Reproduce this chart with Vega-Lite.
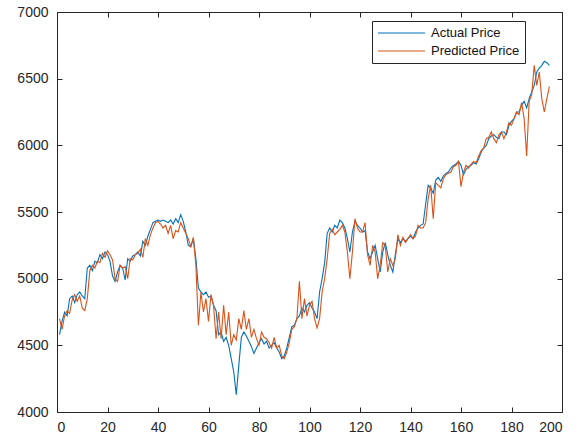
{
  "$schema": "https://vega.github.io/schema/vega-lite/v6.json",
  "width": 505,
  "height": 400,
  "autosize": {"type": "none"},
  "padding": {"left": 57, "top": 12, "right": 20, "bottom": 29},
  "background": "white",
  "config": {
    "view": {"stroke": "#262626", "strokeWidth": 1},
    "font": "Liberation Sans",
    "axis": {"domainColor": "#262626", "ticks": false, "grid": true, "gridColor": "#262626", "gridWidth": 1, "gridOpacity": 1, "labelColor": "#262626", "labelFontSize": 14, "labelFont": "Liberation Sans", "title": null, "format": "d"}
  },
  "data": {"values": [
    {"t":1,"Actual Price":4580,"Predicted Price":4700},
    {"t":2,"Actual Price":4680,"Predicted Price":4620},
    {"t":3,"Actual Price":4750,"Predicted Price":4720},
    {"t":4,"Actual Price":4720,"Predicted Price":4760},
    {"t":5,"Actual Price":4850,"Predicted Price":4740},
    {"t":6,"Actual Price":4870,"Predicted Price":4840},
    {"t":7,"Actual Price":4820,"Predicted Price":4880},
    {"t":8,"Actual Price":4880,"Predicted Price":4830},
    {"t":9,"Actual Price":4900,"Predicted Price":4870},
    {"t":10,"Actual Price":4870,"Predicted Price":4780},
    {"t":11,"Actual Price":4850,"Predicted Price":4760},
    {"t":12,"Actual Price":5080,"Predicted Price":4850},
    {"t":13,"Actual Price":5100,"Predicted Price":5060},
    {"t":14,"Actual Price":5060,"Predicted Price":5100},
    {"t":15,"Actual Price":5130,"Predicted Price":5080},
    {"t":16,"Actual Price":5120,"Predicted Price":5130},
    {"t":17,"Actual Price":5180,"Predicted Price":5120},
    {"t":18,"Actual Price":5150,"Predicted Price":5190},
    {"t":19,"Actual Price":5200,"Predicted Price":5160},
    {"t":20,"Actual Price":5180,"Predicted Price":5210},
    {"t":21,"Actual Price":5130,"Predicted Price":5180},
    {"t":22,"Actual Price":5020,"Predicted Price":5140},
    {"t":23,"Actual Price":4980,"Predicted Price":5000},
    {"t":24,"Actual Price":5050,"Predicted Price":4980},
    {"t":25,"Actual Price":5100,"Predicted Price":5100},
    {"t":26,"Actual Price":5080,"Predicted Price":5080},
    {"t":27,"Actual Price":4990,"Predicted Price":5090},
    {"t":28,"Actual Price":5150,"Predicted Price":5000},
    {"t":29,"Actual Price":5130,"Predicted Price":5150},
    {"t":30,"Actual Price":5170,"Predicted Price":5140},
    {"t":31,"Actual Price":5180,"Predicted Price":5180},
    {"t":32,"Actual Price":5200,"Predicted Price":5190},
    {"t":33,"Actual Price":5170,"Predicted Price":5220},
    {"t":34,"Actual Price":5280,"Predicted Price":5160},
    {"t":35,"Actual Price":5250,"Predicted Price":5300},
    {"t":36,"Actual Price":5320,"Predicted Price":5250},
    {"t":37,"Actual Price":5370,"Predicted Price":5330},
    {"t":38,"Actual Price":5420,"Predicted Price":5380},
    {"t":39,"Actual Price":5430,"Predicted Price":5420},
    {"t":40,"Actual Price":5440,"Predicted Price":5430},
    {"t":41,"Actual Price":5430,"Predicted Price":5410},
    {"t":42,"Actual Price":5440,"Predicted Price":5380},
    {"t":43,"Actual Price":5430,"Predicted Price":5400},
    {"t":44,"Actual Price":5420,"Predicted Price":5340},
    {"t":45,"Actual Price":5440,"Predicted Price":5400},
    {"t":46,"Actual Price":5410,"Predicted Price":5300},
    {"t":47,"Actual Price":5450,"Predicted Price":5360},
    {"t":48,"Actual Price":5420,"Predicted Price":5350},
    {"t":49,"Actual Price":5480,"Predicted Price":5420},
    {"t":50,"Actual Price":5430,"Predicted Price":5380},
    {"t":51,"Actual Price":5350,"Predicted Price":5340},
    {"t":52,"Actual Price":5250,"Predicted Price":5300},
    {"t":53,"Actual Price":5240,"Predicted Price":5240},
    {"t":54,"Actual Price":5300,"Predicted Price":5310},
    {"t":55,"Actual Price":5150,"Predicted Price":5100},
    {"t":56,"Actual Price":4930,"Predicted Price":4650},
    {"t":57,"Actual Price":4900,"Predicted Price":4900},
    {"t":58,"Actual Price":4880,"Predicted Price":4750},
    {"t":59,"Actual Price":4900,"Predicted Price":4850},
    {"t":60,"Actual Price":4860,"Predicted Price":4680},
    {"t":61,"Actual Price":4870,"Predicted Price":4880},
    {"t":62,"Actual Price":4800,"Predicted Price":4800},
    {"t":63,"Actual Price":4760,"Predicted Price":4550},
    {"t":64,"Actual Price":4580,"Predicted Price":4750},
    {"t":65,"Actual Price":4600,"Predicted Price":4550},
    {"t":66,"Actual Price":4530,"Predicted Price":4800},
    {"t":67,"Actual Price":4560,"Predicted Price":4580},
    {"t":68,"Actual Price":4500,"Predicted Price":4750},
    {"t":69,"Actual Price":4400,"Predicted Price":4500},
    {"t":70,"Actual Price":4300,"Predicted Price":4580},
    {"t":71,"Actual Price":4130,"Predicted Price":4540},
    {"t":72,"Actual Price":4350,"Predicted Price":4700},
    {"t":73,"Actual Price":4560,"Predicted Price":4620},
    {"t":74,"Actual Price":4600,"Predicted Price":4760},
    {"t":75,"Actual Price":4570,"Predicted Price":4620},
    {"t":76,"Actual Price":4530,"Predicted Price":4700},
    {"t":77,"Actual Price":4490,"Predicted Price":4560},
    {"t":78,"Actual Price":4440,"Predicted Price":4620},
    {"t":79,"Actual Price":4480,"Predicted Price":4550},
    {"t":80,"Actual Price":4520,"Predicted Price":4500},
    {"t":81,"Actual Price":4550,"Predicted Price":4600},
    {"t":82,"Actual Price":4510,"Predicted Price":4560},
    {"t":83,"Actual Price":4530,"Predicted Price":4550},
    {"t":84,"Actual Price":4480,"Predicted Price":4520},
    {"t":85,"Actual Price":4500,"Predicted Price":4480},
    {"t":86,"Actual Price":4520,"Predicted Price":4560},
    {"t":87,"Actual Price":4480,"Predicted Price":4480},
    {"t":88,"Actual Price":4450,"Predicted Price":4500},
    {"t":89,"Actual Price":4400,"Predicted Price":4420},
    {"t":90,"Actual Price":4420,"Predicted Price":4400},
    {"t":91,"Actual Price":4480,"Predicted Price":4450},
    {"t":92,"Actual Price":4560,"Predicted Price":4520},
    {"t":93,"Actual Price":4640,"Predicted Price":4620},
    {"t":94,"Actual Price":4650,"Predicted Price":4640},
    {"t":95,"Actual Price":4700,"Predicted Price":4700},
    {"t":96,"Actual Price":4720,"Predicted Price":4980},
    {"t":97,"Actual Price":4780,"Predicted Price":4700},
    {"t":98,"Actual Price":4750,"Predicted Price":4850},
    {"t":99,"Actual Price":4800,"Predicted Price":4720},
    {"t":100,"Actual Price":4820,"Predicted Price":4800},
    {"t":101,"Actual Price":4780,"Predicted Price":4830},
    {"t":102,"Actual Price":4750,"Predicted Price":4700},
    {"t":103,"Actual Price":4700,"Predicted Price":4630},
    {"t":104,"Actual Price":4900,"Predicted Price":4700},
    {"t":105,"Actual Price":5000,"Predicted Price":4900},
    {"t":106,"Actual Price":5120,"Predicted Price":5000},
    {"t":107,"Actual Price":5340,"Predicted Price":5150},
    {"t":108,"Actual Price":5380,"Predicted Price":5340},
    {"t":109,"Actual Price":5350,"Predicted Price":5370},
    {"t":110,"Actual Price":5400,"Predicted Price":5330},
    {"t":111,"Actual Price":5380,"Predicted Price":5350},
    {"t":112,"Actual Price":5440,"Predicted Price":5370},
    {"t":113,"Actual Price":5420,"Predicted Price":5400},
    {"t":114,"Actual Price":5380,"Predicted Price":5350},
    {"t":115,"Actual Price":5300,"Predicted Price":5200},
    {"t":116,"Actual Price":5200,"Predicted Price":5000},
    {"t":117,"Actual Price":5350,"Predicted Price":5200},
    {"t":118,"Actual Price":5430,"Predicted Price":5450},
    {"t":119,"Actual Price":5400,"Predicted Price":5380},
    {"t":120,"Actual Price":5380,"Predicted Price":5350},
    {"t":121,"Actual Price":5350,"Predicted Price":5350},
    {"t":122,"Actual Price":5360,"Predicted Price":5420},
    {"t":123,"Actual Price":5200,"Predicted Price":5180},
    {"t":124,"Actual Price":5150,"Predicted Price":5100},
    {"t":125,"Actual Price":5200,"Predicted Price":5250},
    {"t":126,"Actual Price":5250,"Predicted Price":5200},
    {"t":127,"Actual Price":5150,"Predicted Price":5000},
    {"t":128,"Actual Price":5050,"Predicted Price":5100},
    {"t":129,"Actual Price":5200,"Predicted Price":5270},
    {"t":130,"Actual Price":5270,"Predicted Price":5250},
    {"t":131,"Actual Price":5180,"Predicted Price":5050},
    {"t":132,"Actual Price":5100,"Predicted Price":5150},
    {"t":133,"Actual Price":5050,"Predicted Price":5100},
    {"t":134,"Actual Price":5180,"Predicted Price":5150},
    {"t":135,"Actual Price":5300,"Predicted Price":5330},
    {"t":136,"Actual Price":5270,"Predicted Price":5250},
    {"t":137,"Actual Price":5300,"Predicted Price":5310},
    {"t":138,"Actual Price":5280,"Predicted Price":5270},
    {"t":139,"Actual Price":5300,"Predicted Price":5300},
    {"t":140,"Actual Price":5320,"Predicted Price":5330},
    {"t":141,"Actual Price":5300,"Predicted Price":5300},
    {"t":142,"Actual Price":5350,"Predicted Price":5320},
    {"t":143,"Actual Price":5380,"Predicted Price":5400},
    {"t":144,"Actual Price":5400,"Predicted Price":5380},
    {"t":145,"Actual Price":5410,"Predicted Price":5380},
    {"t":146,"Actual Price":5560,"Predicted Price":5420},
    {"t":147,"Actual Price":5700,"Predicted Price":5600},
    {"t":148,"Actual Price":5680,"Predicted Price":5700},
    {"t":149,"Actual Price":5640,"Predicted Price":5450},
    {"t":150,"Actual Price":5740,"Predicted Price":5720},
    {"t":151,"Actual Price":5760,"Predicted Price":5700},
    {"t":152,"Actual Price":5730,"Predicted Price":5680},
    {"t":153,"Actual Price":5770,"Predicted Price":5750},
    {"t":154,"Actual Price":5790,"Predicted Price":5780},
    {"t":155,"Actual Price":5800,"Predicted Price":5790},
    {"t":156,"Actual Price":5830,"Predicted Price":5800},
    {"t":157,"Actual Price":5850,"Predicted Price":5840},
    {"t":158,"Actual Price":5860,"Predicted Price":5850},
    {"t":159,"Actual Price":5880,"Predicted Price":5880},
    {"t":160,"Actual Price":5850,"Predicted Price":5690},
    {"t":161,"Actual Price":5780,"Predicted Price":5800},
    {"t":162,"Actual Price":5820,"Predicted Price":5850},
    {"t":163,"Actual Price":5840,"Predicted Price":5830},
    {"t":164,"Actual Price":5850,"Predicted Price":5860},
    {"t":165,"Actual Price":5870,"Predicted Price":5880},
    {"t":166,"Actual Price":5860,"Predicted Price":5870},
    {"t":167,"Actual Price":5900,"Predicted Price":5920},
    {"t":168,"Actual Price":5950,"Predicted Price":5960},
    {"t":169,"Actual Price":5980,"Predicted Price":5980},
    {"t":170,"Actual Price":6000,"Predicted Price":6050},
    {"t":171,"Actual Price":6050,"Predicted Price":6060},
    {"t":172,"Actual Price":6070,"Predicted Price":6100},
    {"t":173,"Actual Price":6080,"Predicted Price":6050},
    {"t":174,"Actual Price":6060,"Predicted Price":6020},
    {"t":175,"Actual Price":6050,"Predicted Price":6080},
    {"t":176,"Actual Price":6100,"Predicted Price":6100},
    {"t":177,"Actual Price":6100,"Predicted Price":6050},
    {"t":178,"Actual Price":6080,"Predicted Price":6100},
    {"t":179,"Actual Price":6150,"Predicted Price":6170},
    {"t":180,"Actual Price":6180,"Predicted Price":6150},
    {"t":181,"Actual Price":6200,"Predicted Price":6200},
    {"t":182,"Actual Price":6250,"Predicted Price":6250},
    {"t":183,"Actual Price":6250,"Predicted Price":6230},
    {"t":184,"Actual Price":6300,"Predicted Price":6320},
    {"t":185,"Actual Price":6330,"Predicted Price":6200},
    {"t":186,"Actual Price":6280,"Predicted Price":5920},
    {"t":187,"Actual Price":6350,"Predicted Price":6330},
    {"t":188,"Actual Price":6400,"Predicted Price":6380},
    {"t":189,"Actual Price":6450,"Predicted Price":6600},
    {"t":190,"Actual Price":6550,"Predicted Price":6450},
    {"t":191,"Actual Price":6580,"Predicted Price":6550},
    {"t":192,"Actual Price":6600,"Predicted Price":6350},
    {"t":193,"Actual Price":6630,"Predicted Price":6250},
    {"t":194,"Actual Price":6620,"Predicted Price":6350},
    {"t":195,"Actual Price":6600,"Predicted Price":6440}
  ]},
  "transform": [{"fold": ["Actual Price", "Predicted Price"], "as": ["series", "price"]}],
  "mark": {"type": "line", "strokeWidth": 1.1},
  "encoding": {
    "x": {"field": "t", "type": "quantitative", "scale": {"domain": [0, 200], "nice": false},
          "axis": {"values": [0,20,40,60,80,100,120,140,160,180,200], "labelPadding": 8, "gridDash": [5, 390, 5, 20]}},
    "y": {"field": "price", "type": "quantitative", "scale": {"domain": [4000, 7000], "nice": false, "zero": false},
          "axis": {"values": [4000,4500,5000,5500,6000,6500,7000], "labelPadding": 9, "gridDash": [5, 495, 5, 20]}},
    "color": {"field": "series", "type": "nominal",
              "scale": {"domain": ["Actual Price", "Predicted Price"], "range": ["#0072BD", "#D95319"]},
              "legend": {"title": null, "orient": "none", "legendX": 315, "legendY": 9,
                         "symbolType": "M-1,0H6.83", "symbolSize": 144, "symbolStrokeWidth": 1.2,
                         "symbolFillColor": "transparent",
                         "labelFontSize": 13, "labelColor": "#111", "labelFont": "Liberation Sans",
                         "strokeColor": "#262626", "fillColor": "white", "padding": 5,
                         "rowPadding": 4, "labelOffset": 40}}
  }
}
